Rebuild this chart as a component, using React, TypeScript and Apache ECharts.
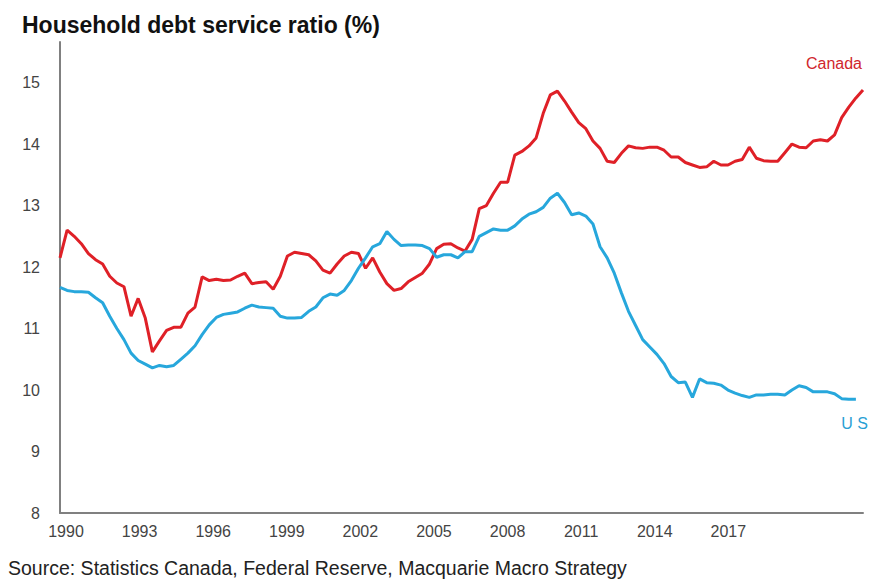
import React, { useEffect, useRef } from "react";
import * as echarts from "echarts";

const title = "Household debt service ratio (%)";
const source = "Source: Statistics Canada, Federal Reserve, Macquarie Macro Strategy";

const startYear = 1990;
const quarterCount = 114;
const quarters: string[] = [];
for (let i = 0; i < quarterCount; i++) {
  quarters.push(`${startYear + Math.floor(i / 4)}Q${(i % 4) + 1}`);
}

const xTickLabels = ["1990", "1993", "1996", "1999", "2002", "2005", "2008", "2011", "2014", "2017"];
const yTicks = [8, 9, 10, 11, 12, 13, 14, 15];

const canada = [
  12.15, 12.6, 12.5, 12.38, 12.22, 12.12, 12.05, 11.85, 11.74, 11.68,
  11.2, 11.49, 11.17, 10.62, 10.8, 10.97, 11.02, 11.02, 11.25, 11.35,
  11.84, 11.78, 11.8, 11.78, 11.79, 11.85, 11.9, 11.73, 11.75, 11.76,
  11.64, 11.85, 12.18, 12.24, 12.22, 12.2, 12.1, 11.95, 11.9, 12.05,
  12.18, 12.24, 12.22, 11.98, 12.15, 11.92, 11.73, 11.62, 11.65, 11.76,
  11.83, 11.9, 12.05, 12.3, 12.37, 12.38, 12.31, 12.26, 12.45, 12.95,
  13.0, 13.2, 13.38, 13.38, 13.82, 13.88, 13.97, 14.1, 14.5, 14.8,
  14.86, 14.7, 14.52, 14.35, 14.25, 14.05, 13.93, 13.72, 13.7, 13.85,
  13.97, 13.94, 13.93, 13.95, 13.95, 13.9, 13.79, 13.79, 13.7, 13.66,
  13.62, 13.63, 13.72, 13.66, 13.66, 13.72, 13.75, 13.95, 13.77, 13.73,
  13.72, 13.72, 13.86, 14.0, 13.95, 13.94, 14.05, 14.07, 14.05, 14.15,
  14.43, 14.6, 14.75, 14.88,
];

const us = [
  11.67, 11.62, 11.6, 11.6, 11.59, 11.5, 11.42, 11.2, 11.0, 10.82,
  10.6, 10.48, 10.42, 10.36, 10.4, 10.38, 10.4, 10.5, 10.6, 10.72,
  10.9, 11.06, 11.18, 11.23, 11.25, 11.27, 11.33, 11.38, 11.35, 11.34,
  11.33, 11.2, 11.17, 11.17, 11.18, 11.28, 11.35, 11.5, 11.56, 11.54,
  11.62, 11.78, 11.98, 12.15, 12.33, 12.38, 12.58, 12.45, 12.35, 12.36,
  12.36, 12.35, 12.3, 12.16, 12.2, 12.2, 12.15, 12.25, 12.25, 12.5,
  12.56, 12.62, 12.6, 12.6, 12.67, 12.78, 12.86, 12.9, 12.97, 13.12,
  13.2, 13.05, 12.85, 12.88, 12.83, 12.7, 12.33, 12.15, 11.9, 11.58,
  11.28, 11.05, 10.82, 10.7, 10.58, 10.43, 10.22, 10.12, 10.13, 9.88,
  10.18, 10.12, 10.11, 10.08, 10.0, 9.95, 9.91, 9.88, 9.92, 9.92,
  9.93, 9.93, 9.92, 10.0, 10.07, 10.04, 9.97, 9.97, 9.97, 9.94,
  9.86, 9.85, 9.85,
];

const RED = "#df2027";
const BLUE = "#27a7dc";

export default function App() {
  const ref = useRef<HTMLDivElement>(null);
  useEffect(() => {
    if (!ref.current) return;
    const chart = echarts.init(ref.current, null, { renderer: "svg" });
    const font = "Liberation Sans, Arial, sans-serif";
    const labelYears = xTickLabels.map(Number);
    chart.setOption({
      animation: false,
      backgroundColor: "#ffffff",
      textStyle: { fontFamily: font },
      grid: { left: 60, right: 13, top: 42, bottom: 66, containLabel: false },
      title: [
        {
          text: title,
          left: 17,
          top: 8,
          textStyle: { fontFamily: font, fontSize: 23, fontWeight: "bold", color: "#111" },
        },
        {
          text: source,
          left: 3,
          top: 552,
          textStyle: { fontFamily: font, fontSize: 19.5, fontWeight: "normal", color: "#222", lineHeight: 22 },
        },
      ],
      xAxis: [
        {
          type: "category",
          data: quarters,
          boundaryGap: false,
          position: "bottom",
          axisLine: { show: true, lineStyle: { color: "#808080", width: 2 } },
          axisTick: { show: false },
          axisLabel: { show: false },
          splitLine: { show: false },
        },
        {
          type: "value",
          position: "bottom",
          offset: 0,
          min: 1989.755,
          max: 2022.49,
          axisLine: { show: false, onZero: false },
          axisTick: { show: false },
          splitLine: { show: false },
          axisLabel: {
            show: true,
            margin: 10,
            fontSize: 16,
            color: "#444",
            fontFamily: font,
            customValues: labelYears,
            formatter: (v: number) => String(Math.round(v)),
          },
        },
      ],
      yAxis: {
        type: "value",
        min: 8,
        max: 15.66,
        interval: 1,
        axisLine: { show: true, lineStyle: { color: "#808080", width: 2 } },
        axisTick: { show: false },
        splitLine: { show: false },
        axisLabel: {
          margin: 20,
          fontSize: 16,
          color: "#444",
          fontFamily: font,
          showMaxLabel: false,
          formatter: (v: number) => (yTicks.includes(v) ? String(v) : ""),
        },
      },
      series: [
        {
          name: "Canada",
          type: "line",
          xAxisIndex: 0,
          data: canada,
          symbol: "none",
          lineStyle: { color: RED, width: 3 },
          itemStyle: { color: RED },
        },
        {
          name: "US",
          type: "line",
          xAxisIndex: 0,
          data: us,
          symbol: "none",
          lineStyle: { color: BLUE, width: 3 },
          itemStyle: { color: BLUE },
        },
        {
          name: "axisLabels",
          type: "scatter",
          xAxisIndex: 1,
          yAxisIndex: 0,
          data: [],
          silent: true,
        },
      ],
      graphic: [
        {
          type: "text",
          right: 14,
          top: 55,
          style: {
            text: "Canada",
            fill: "#d0262c",
            font: `16px ${font}`,
          },
        },
        {
          type: "text",
          right: 8,
          top: 415,
          style: {
            text: "U S",
            fill: "#2a9fd4",
            font: `16px ${font}`,
          },
        },
      ],
    });
    return () => chart.dispose();
  }, []);
  return (
    <div
      ref={ref}
      style={{ position: "fixed", left: 0, top: 0, width: 876, height: 579 }}
    />
  );
}
